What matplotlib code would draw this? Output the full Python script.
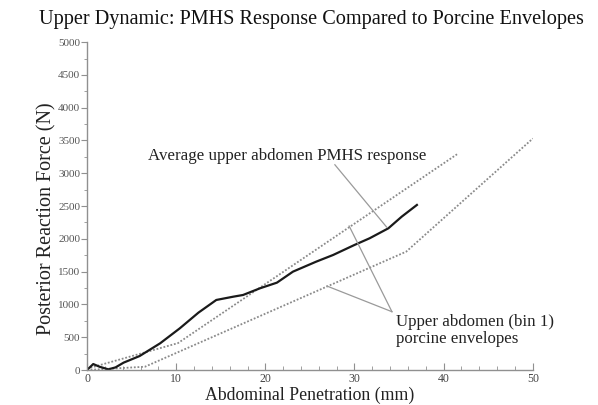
import matplotlib
matplotlib.use("Agg")
import matplotlib.pyplot as plt
from matplotlib.ticker import MultipleLocator

plt.rcParams['font.family'] = ['Liberation Serif', 'DejaVu Serif']

# PMHS average response
pmhs_x = [0.0, 0.7, 1.4, 2.4, 3.2, 4.1, 5.9, 8.2, 10.4, 12.5, 14.5, 16.4, 17.5,
          19.4, 21.3, 23.1, 25.7, 27.6, 30.0, 31.7, 33.8, 35.3, 37.0]
pmhs_f = [0, 91, 50, 10, 40, 112, 213, 407, 635, 875, 1068, 1118, 1144,
          1246, 1332, 1500, 1652, 1754, 1907, 2009, 2161, 2339, 2517]

# Porcine envelopes
upper_env_x = [0.0, 10.2, 41.5]
upper_env_f = [20, 410, 3290]
lower_env_x = [0.0, 6.5, 35.8, 50.0]
lower_env_f = [0, 50, 1805, 3530]

title = "Upper Dynamic: PMHS Response Compared to Porcine Envelopes"
xlabel = "Abdominal Penetration (mm)"
ylabel = "Posterior Reaction Force (N)"

fig = plt.figure(figsize=(5.98, 4.05), dpi=100)
ax = fig.add_axes([0.1455, 0.0864, 0.7455, 0.8096])

ax.plot(upper_env_x, upper_env_f, linestyle=(0, (1, 1)), color='#8a8a8a', lw=1.3)
ax.plot(lower_env_x, lower_env_f, linestyle=(0, (1, 1)), color='#8a8a8a', lw=1.3)
ax.plot(pmhs_x, pmhs_f, color='#1a1a1a', lw=1.6)

ax.set_xlim(0, 50)
ax.set_ylim(0, 5000)
ax.xaxis.set_major_locator(MultipleLocator(10))
ax.xaxis.set_minor_locator(MultipleLocator(2))
ax.yaxis.set_major_locator(MultipleLocator(500))
ax.yaxis.set_minor_locator(MultipleLocator(250))

for s in ['top', 'right']:
    ax.spines[s].set_visible(False)
for s in ['left', 'bottom']:
    ax.spines[s].set_color('#909090')
    ax.spines[s].set_linewidth(1.0)

ax.tick_params(axis='x', which='major', direction='in', length=5, color='#909090',
               labelsize=8.5, labelcolor='#444444', pad=2)
ax.tick_params(axis='x', which='minor', direction='in', length=3, color='#909090')
ax.tick_params(axis='y', which='major', direction='out', length=4, color='#909090',
               labelsize=8, labelcolor='#555555', pad=1)
ax.tick_params(axis='y', which='minor', direction='out', length=2, color='#909090')

ax.set_xlabel(xlabel, fontsize=12.8, color='#222222')
ax.xaxis.set_label_coords(0.5, -0.052)
ax.set_ylabel(ylabel, fontsize=14.5, color='#222222')
ax.yaxis.set_label_coords(-0.068, 0.463)
fig.text(0.52, 0.953, title, ha='center', va='center', fontsize=14.6, color='#111111')

# Annotations
ax.text(6.8, 3264, "Average upper abdomen PMHS response", fontsize=12.2,
        ha='left', va='center', color='#222222')
ax.plot([27.8, 33.6], [3130, 2180], color='#9a9a9a', lw=0.9)

ax.text(34.7, 850, "Upper abdomen (bin 1)\nporcine envelopes", fontsize=12.2,
        ha='left', va='top', color='#222222', linespacing=1.1)
ax.plot([29.4, 34.2], [2196, 889], color='#9a9a9a', lw=0.9)
ax.plot([26.9, 34.2], [1281, 889], color='#9a9a9a', lw=0.9)

fig.savefig("out.png", dpi=100)
